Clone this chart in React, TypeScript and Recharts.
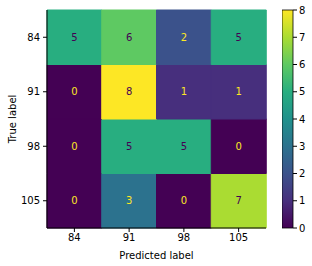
import { BarChart, Bar, XAxis, YAxis, Cell, LabelList } from 'recharts';

const trueLabels = ['84', '91', '98', '105'];
const predLabels = ['84', '91', '98', '105'];
// rows = true label, columns = predicted label
const counts = [
    [5, 6, 2, 5],
    [0, 8, 1, 1],
    [0, 5, 5, 0],
    [0, 3, 0, 7],
];
const colorTicks = [0, 1, 2, 3, 4, 5, 6, 7, 8];
// viridis sampled at values 0..8
const viridis = ['#440154', '#472f7d', '#3b528b', '#2c728e', '#21918c', '#28ae80', '#5ec962', '#aadc32', '#fde725'];

const rowTicks = [0.5, 1.5, 2.5, 3.5];

const data = predLabels.map(p => {
    const row: any = { pred: p };
    trueLabels.forEach((t, i) => { row['r' + i] = 1; });
    return row;
});

const black = '#000';
const tickStyle = { fill: black, fontSize: 10 };

const App = () => {
    // stacked bars go bottom-up, so the last true label is drawn first
    const rows = trueLabels.map((_, i) => i).reverse();

    return (
        <div style={{ position: 'absolute', left: 0, top: 0, width: 312, height: 266, background: '#fff', fontFamily: 'DejaVu Sans' }}>
            <div style={{ position: 'absolute', left: 0, top: 0 }}>
                <BarChart width={312} height={266} data={data} barCategoryGap={0} barGap={0}
                    margin={{ top: 10, right: 46, bottom: 0, left: 0 }}>
                    {rows.map(r => (
                        <Bar key={r} dataKey={'r' + r} stackId="cm" isAnimationActive={false}>
                            {predLabels.map((p, j) => (
                                <Cell key={p} fill={viridis[counts[r][j]]} stroke={viridis[counts[r][j]]} strokeWidth={1} />
                            ))}
                            <LabelList content={(props: any) => {
                                const { x, y, width, height, index } = props;
                                const v = counts[r][index];
                                return (
                                    <text x={x + width / 2} y={y + height / 2} textAnchor="middle" dominantBaseline="central"
                                        fontSize={10} fill={v >= 4 ? viridis[0] : viridis[8]}>
                                        {v}
                                    </text>
                                );
                            }} />
                        </Bar>
                    ))}
                    <XAxis dataKey="pred" height={38} tick={tickStyle} tickSize={4} tickMargin={2}
                        tickLine={{ stroke: black }} axisLine={{ stroke: black }}
                        label={{ value: 'Predicted label', position: 'insideBottom', offset: 7, fill: black, fontSize: 10 }} />
                    <XAxis xAxisId="top" dataKey="pred" orientation="top" height={0} tick={false} tickLine={false}
                        axisLine={{ stroke: black }} />
                    <YAxis type="number" domain={[0, 4]} ticks={rowTicks} interval={0} width={47}
                        tickFormatter={(v: number) => trueLabels[3 - Math.floor(v)]}
                        tick={tickStyle} tickSize={4} tickMargin={3}
                        tickLine={{ stroke: black }} axisLine={{ stroke: black }}
                        label={{ value: 'True label', angle: -90, position: 'insideLeft', offset: 12, fill: black, fontSize: 10, style: { textAnchor: 'middle' } }} />
                    <YAxis yAxisId="right" orientation="right" type="number" domain={[0, 4]} width={0}
                        tick={false} tickLine={false} axisLine={{ stroke: black }} />
                </BarChart>
            </div>
            <div style={{ position: 'absolute', left: 282, top: 0 }}>
                <BarChart width={30} height={266} data={[{ name: 'cbar', v: 8 }]} barCategoryGap={0}
                    margin={{ top: 10, right: 0, bottom: 38, left: 0 }}>
                    <defs>
                        <linearGradient id="cbarGrad" x1="0" y1="1" x2="0" y2="0">
                            {viridis.map((c, k) => (
                                <stop key={k} offset={k / 8} stopColor={c} />
                            ))}
                        </linearGradient>
                    </defs>
                    <XAxis dataKey="name" hide />
                    <YAxis orientation="right" type="number" domain={[0, 8]} ticks={colorTicks} interval={0} width={19}
                        tick={tickStyle} tickSize={4} tickMargin={2}
                        tickLine={{ stroke: black }} axisLine={false} />
                    <Bar dataKey="v" fill="url(#cbarGrad)" stroke={black} strokeWidth={0.8} isAnimationActive={false} />
                </BarChart>
            </div>
        </div>
    );
};

export default App;
